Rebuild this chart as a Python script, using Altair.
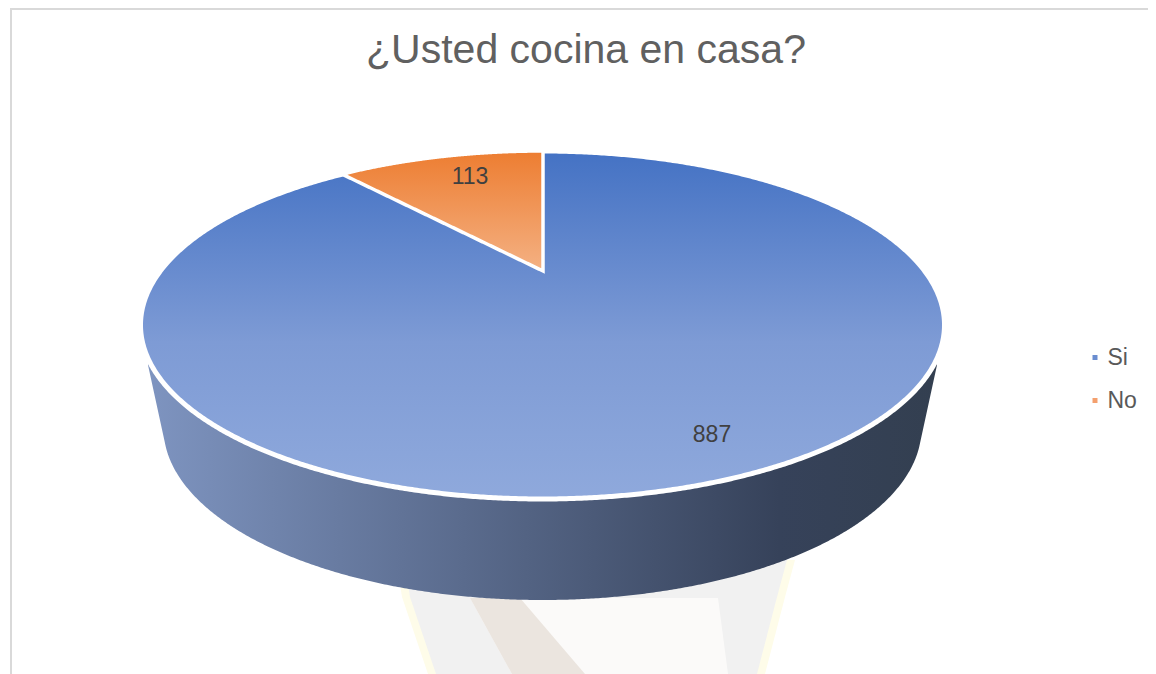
import math
import altair as alt
import pandas as pd
import numpy as np

# --- content
categories = ["Si", "No"]
values = [887, 113]
title_text = "¿Usted cocina en casa?"
label_x = [712, 470]
label_y = [435, 177]

# --- pie geometry (page pixels) and perspective of the tilted disc
CX, CY, RX, RY = 542.5, 325.0, 402.0, 174.0
BOT_CY, BOT_RX, BOT_RY = 428.0, 379.0, 172.0
KINK = 377.5
APEX_X, APEX_Y = 543.0, 271.0
PA, PB, PK = 383.0, 154.0, 0.32
SIDE_HALF, SIDE_TIP_Y = 394.5, 365.0


def top_upper(x):
    return CY - RY * math.sqrt(max(0.0, 1 - ((x - CX) / RX) ** 2))


def top_lower(x):
    return CY + RY * math.sqrt(max(0.0, 1 - ((x - CX) / RX) ** 2))


def project(frac):
    a = 2 * math.pi * frac
    X, Y = -math.sin(a), math.cos(a)
    w = 1 + PK * Y
    return APEX_X + PA * X / w, APEX_Y - PB * Y / w


ts = np.linspace(0, math.pi, 500)
top_x = [CX + RX * math.cos(t) for t in ts]
top_df = pd.DataFrame({"x": top_x, "y": [top_upper(x) for x in top_x], "y2": [top_lower(x) for x in top_x]})

tip_x, _ = project(values[1] / sum(values))
tip_y = top_upper(tip_x)
wx = list(np.linspace(tip_x, APEX_X, 200))
wedge_df = pd.DataFrame({
    "x": wx,
    "y": [top_upper(x) for x in wx],
    "y2": [tip_y + (APEX_Y - tip_y) * (x - tip_x) / (APEX_X - tip_x) for x in wx],
})

side_dx = [-SIDE_HALF] + [KINK * math.cos(t) for t in np.linspace(math.pi, 0, 500)] + [SIDE_HALF]
kink_y = BOT_CY + BOT_RY * math.sqrt(1 - (KINK / BOT_RX) ** 2)


def side_bottom(dx):
    d = abs(dx)
    if d >= KINK:
        return kink_y + (SIDE_TIP_Y - kink_y) * (d - KINK) / (SIDE_HALF - KINK)
    return BOT_CY + BOT_RY * math.sqrt(1 - (d / BOT_RX) ** 2)


side_df = pd.DataFrame({
    "x": [CX + d for d in side_dx],
    "y": [top_lower(CX + d) - 6 for d in side_dx],
    "y2": [side_bottom(d) for d in side_dx],
})

# faint background emblem behind the chart
shield_y = [560, 597, 674]
shield_x = [396, 402, 428]
shield_x2 = [795, 785, 765]
inner_x = [404, 410, 436]
inner_x2 = [787, 777, 757]
feather_y = [598, 674]
feather_x = [470, 512]
feather_x2 = [718, 728]
shade_x = [470, 512]
shade_x2 = [520, 585]

X = alt.X("x:Q", axis=None, scale=alt.Scale(domain=[8, 1148], nice=False, zero=False))
Y = alt.Y("y:Q", axis=None, scale=alt.Scale(domain=[674, 78], nice=False, zero=False))
Y2 = alt.Y2("y2:Q")


def band(ys, xs, xs2, colour):
    d = pd.DataFrame({"y": ys, "x": xs, "x2": xs2})
    return alt.Chart(d).mark_area(orient="horizontal", color=colour).encode(y=Y, x=X, x2=alt.X2("x2:Q"))


def grad(stops):
    return alt.Gradient(gradient="linear", x1=0, x2=0, y1=0, y2=1,
                        stops=[alt.GradientStop(color=c, offset=o) for c, o in stops])


frame_h = alt.Chart(pd.DataFrame({"x": [10], "x2": [1148], "y": [9]})).mark_rule(
    color="#d9d9d9", strokeWidth=2).encode(x=X, x2=alt.X2("x2:Q"), y=Y)
frame_v = alt.Chart(pd.DataFrame({"x": [11], "y": [8], "y2": [674]})).mark_rule(
    color="#d9d9d9", strokeWidth=2).encode(x=X, y=Y, y2=Y2)

labels_df = pd.DataFrame({"cat": categories, "val": [str(v) for v in values], "x": label_x, "y": label_y})

legend_carrier = alt.Chart(labels_df).mark_square(size=25, opacity=1).encode(
    x=X, y=Y,
    color=alt.Color("cat:N",
                    scale=alt.Scale(domain=categories, range=["#6a8dd0", "#f4a06e"]),
                    legend=alt.Legend(title=None, orient="none", legendX=1075.5, legendY=268,
                                      symbolType="square", symbolSize=25, symbolStrokeWidth=0,
                                      labelFont="Liberation Sans", labelFontSize=23, labelColor="#595959",
                                      labelOffset=1, rowPadding=19, padding=0)),
)

side = alt.Chart(side_df).mark_area(
    orient="vertical",
    fill=alt.Gradient(gradient="linear", x1=0, x2=1, y1=0, y2=0, stops=[
        alt.GradientStop(color="#7e94c0", offset=0),
        alt.GradientStop(color="#36425a", offset=0.8),
        alt.GradientStop(color="#333f50", offset=1),
    ]),
).encode(x=X, y=Y, y2=Y2)

top = alt.Chart(top_df).mark_area(
    orient="vertical",
    fill=grad([("#4472c4", 0), ("#7e9bd5", 0.55), ("#8fa9dc", 1)]),
    stroke="white", strokeWidth=5,
).encode(x=X, y=Y, y2=Y2)

wedge = alt.Chart(wedge_df).mark_area(
    orient="vertical", fill=grad([("#ed7d31", 0), ("#f4b183", 1)]), stroke="white", strokeWidth=3.5,
).encode(x=X, y=Y, y2=Y2)

text = alt.Chart(labels_df).mark_text(
    font="Liberation Sans", fontSize=23, color="#404040", align="center", baseline="middle",
).encode(x=X, y=Y, text="val:N")

chart = alt.layer(
    band(shield_y, shield_x, shield_x2, "#fefce9"),
    band(shield_y, inner_x, inner_x2, "#f1f1f1"),
    band(feather_y, feather_x, feather_x2, "#fbfaf9"),
    band(feather_y, shade_x, shade_x2, "#ebe5df"),
    frame_h, frame_v, legend_carrier, side, top, wedge, text,
).properties(
    width=1140, height=596,
    title=alt.TitleParams(title_text, font="Liberation Sans", fontSize=41, fontWeight="normal",
                          color="#606060", anchor="middle", dx=8, dy=73, offset=8),
    autosize=alt.AutoSizeParams(type="none"),
    padding={"left": 0, "top": 70, "right": 0, "bottom": 0},
).configure_view(stroke=None)

chart.save("out.html", embed_options={"renderer": "svg", "actions": False})
